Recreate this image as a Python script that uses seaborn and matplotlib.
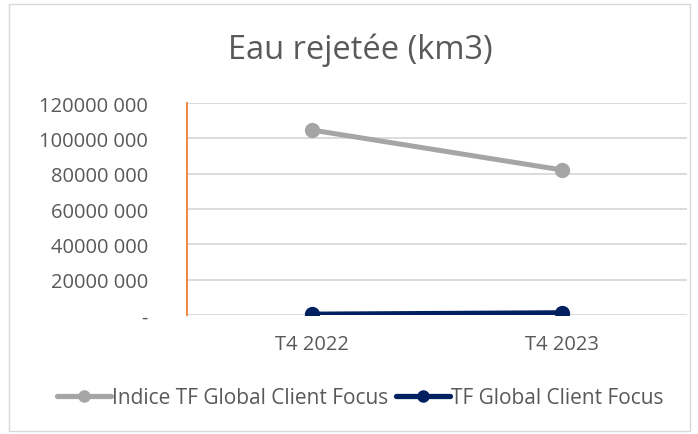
import pandas as pd
import numpy as np
import matplotlib
matplotlib.use("Agg")
import matplotlib.pyplot as plt
import seaborn as sns
from matplotlib.patches import Rectangle

# Data
quarters = ["T4 2022", "T4 2023"]
indice_tf = [104700000, 82100000]
tf_focus = [500000, 1300000]
series_names = ["Indice TF Global Client Focus", "TF Global Client Focus"]
y_ticks = [0, 20000000, 40000000, 60000000, 80000000, 100000000, 120000000]
y_labels = ["-", "20000 000", "40000 000", "60000 000", "80000 000", "100000 000", "120000 000"]

df = pd.DataFrame({
    "quarter": quarters * 2,
    "value": indice_tf + tf_focus,
    "series": [series_names[0]] * 2 + [series_names[1]] * 2,
})

sns.set_style("white")
plt.rcParams['font.family'] = ['Open Sans', 'DejaVu Sans']

fig = plt.figure(figsize=(6.98, 4.35), dpi=100)
ax = fig.add_axes([187 / 698, 1 - 316 / 435, 500 / 698, 212 / 435])

palette = {series_names[0]: "#A5A5A5", series_names[1]: "#002060"}
sns.lineplot(data=df, x="quarter", y="value", hue="series", palette=palette,
             marker="o", markersize=11, markeredgewidth=0, linewidth=3.6,
             sort=False, ax=ax)

ax.set_xlim(-0.5, 1.5)
ax.set_ylim(0, 120000000)
ax.set_yticks(y_ticks)
ax.set_yticklabels(y_labels)
ax.yaxis.grid(True, color="#D9D9D9", linewidth=1.3)
ax.set_axisbelow(True)
ax.set_xlabel("")
ax.set_ylabel("")
for side in ["top", "right", "bottom"]:
    ax.spines[side].set_visible(False)
ax.spines["left"].set_color("#ED7D31")
ax.spines["left"].set_linewidth(1.3)
ax.tick_params(axis="both", length=0, labelsize=14.5, labelcolor="#595959")
ax.tick_params(axis="y", pad=28)
ax.tick_params(axis="x", pad=14)

ax.legend_.remove()
handles, labels = ax.get_legend_handles_labels()
for h in handles:
    h.set_markersize(9)
    h.set_linewidth(3.8)
fig.legend(handles, labels, loc="center", bbox_to_anchor=(360 / 698, 1 - 399 / 435),
           ncol=2, frameon=False, fontsize=15, labelcolor="#595959",
           handlelength=2.6, handletextpad=0.05, columnspacing=0.35)

fig.text(360 / 698, 1 - 50 / 435, "Eau rejetée (km3)", ha="center", va="center",
         fontsize=23.5, color="#595959")

fig.patches.append(Rectangle((9 / 698, 3 / 435), 681 / 698, 427 / 435,
                             transform=fig.transFigure, fill=False,
                             edgecolor="#D9D9D9", linewidth=1))

fig.savefig("out.png", dpi=100)
